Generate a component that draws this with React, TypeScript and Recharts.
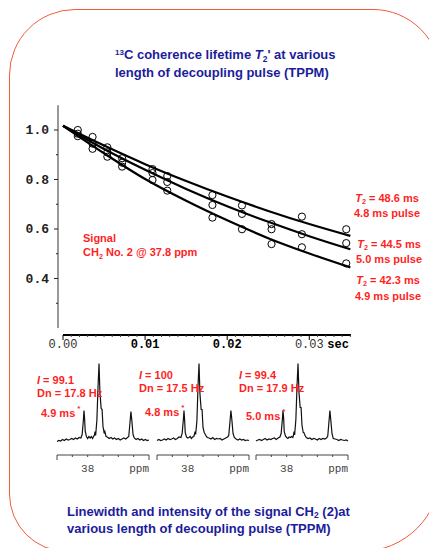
import React from 'react';
import { ComposedChart, LineChart, Line, Scatter, XAxis, YAxis, ReferenceLine } from 'recharts';

// T2' decay: delay times (s) and normalised amplitudes per decoupling pulse
const sampleTimes = [0.0018, 0.0036, 0.0054, 0.0072, 0.0109, 0.0127, 0.0182, 0.0218, 0.0254, 0.0291, 0.0345];
const amp48 = [1.0, 0.972, 0.93, 0.886, 0.842, 0.814, 0.737, 0.695, 0.62, 0.65, 0.599];
const amp50 = [0.985, 0.945, 0.91, 0.868, 0.826, 0.79, 0.697, 0.661, 0.599, 0.579, 0.543];
const amp49 = [0.975, 0.924, 0.892, 0.852, 0.798, 0.755, 0.646, 0.599, 0.539, 0.526, 0.461];

// fitted curves
const fitTimes = [0, 0.005, 0.01, 0.015, 0.02, 0.025, 0.03, 0.035];
const fit48 = [1.017, 0.937, 0.862, 0.794, 0.731, 0.673, 0.62, 0.572];
const fit50 = [1.017, 0.923, 0.839, 0.762, 0.692, 0.629, 0.571, 0.518];
const fit49 = [1.017, 0.906, 0.802, 0.714, 0.635, 0.563, 0.501, 0.445];

const yTicks = [0.3, 0.4, 0.5, 0.6, 0.7, 0.8, 0.9, 1.0];
const xTicks = Array.from({ length: 36 }, (_, i) => i / 1000);
const xLabels: Record<number, string> = { 0: '0.00', 10: '0.01', 20: '0.02', 30: '0.03' };

// spectra: chemical shift grid (ppm) and intensities
const ppm = [
  38.5, 38.47, 38.44, 38.41, 38.38, 38.35, 38.32, 38.29, 38.26, 38.23, 38.2, 38.17, 38.14, 38.11, 38.09,
  38.07, 38.06, 38.05, 38.04, 38.02, 38.0, 37.98, 37.96, 37.94, 37.92, 37.9, 37.89, 37.88, 37.87, 37.85,
  37.83, 37.815, 37.8, 37.78, 37.765, 37.75, 37.73, 37.72, 37.7, 37.68, 37.65, 37.62, 37.59, 37.56, 37.53,
  37.5, 37.47, 37.44, 37.41, 37.38, 37.35, 37.33, 37.31, 37.295, 37.28, 37.26, 37.24, 37.21, 37.18, 37.15,
  37.12, 37.09, 37.06, 37.03, 37.0,
];
const spec49 = [
  -1, 0, -0.5, 1, 0, 1.5, 0.5, 1, 2, 1, 2.5, 1.5, 3, 2.5, 6,
  20, 30, 22, 9, 4, 2, 4, 2.5, 4, 2, 4.5, 5, 9, 5, 20,
  55, 77, 48, 32, 31, 14, 7, 9, 4, 3.5, 2, 3, 1.5, 2.5, 1,
  2, 0.5, 1.5, 2.5, 1.5, 3, 4, 18, 29, 20, 6, 2.5, 1, 2, 0.5,
  1.5, 0, 1, 0, 0.5,
];
const spec48 = [
  0, 1, 0, 0.5, 1.5, 0.5, 2, 1, 1.5, 2.5, 1, 2, 3.5, 3, 7,
  21, 30, 21, 8, 3.5, 2.5, 3, 4, 2, 3.5, 4, 6, 9, 6, 19,
  56, 77, 47, 31, 31, 13, 8, 7, 4.5, 3, 2.5, 1.5, 3, 1, 2,
  1.5, 2, 0.5, 1.5, 2.5, 3.5, 5, 19, 30, 21, 7, 3, 1.5, 0.5, 1.5,
  0.5, 1, 0, 0.5, 0,
];
const spec50 = [
  -0.5, 0.5, 1, 0, 1, 2, 0.5, 1.5, 1, 2, 2.5, 1, 2.5, 3.5, 7,
  21, 30, 23, 9, 4.5, 3, 2, 3.5, 3, 4, 3, 5, 9, 5.5, 21,
  56, 77, 49, 33, 33, 15, 8, 8, 5, 3, 2, 2.5, 1, 2, 1.5,
  0.5, 2, 1, 2, 1.5, 2.5, 4.5, 19, 30, 20, 6.5, 2, 1.5, 1, 0,
  1, 0.5, 0, 0.5, -0.5,
];
const specTicks = [37.0, 37.25, 37.5, 37.75, 38.0, 38.25, 38.5];

const series = (xs: number[], ys: number[]) => xs.map((t, i) => ({ t, v: ys[i] }));
const spectrum = (ys: number[]) => ppm.map((p, i) => ({ ppm: p, i: ys[i] }));

const SANS = '"Liberation Sans", Arial, sans-serif';
const MONO = '"Liberation Mono", "Courier New", monospace';
const RED = '#ff1f1f';
const BLUE = '#1c1c9c';

const Sup = ({ children }: { children: React.ReactNode }) => (
  <span style={{ fontSize: '0.62em', position: 'relative', top: '-0.55em' }}>{children}</span>
);
const Sub = ({ children }: { children: React.ReactNode }) => (
  <span style={{ fontSize: '0.65em', position: 'relative', top: '0.35em' }}>{children}</span>
);

const XTick = (props: any) => {
  const { x, y, payload } = props;
  const i = Math.round(payload.value * 1000);
  const major = i % 10 === 0;
  const bold = i === 10 || i === 20;
  return (
    <g>
      <line x1={x} x2={x} y1={y} y2={y + (major ? 5 : 2)} stroke={major ? '#000' : '#444'} strokeWidth={1} />
      {major && (
        <text x={x} y={y + 13} textAnchor="middle" fontFamily={MONO} fontSize={12}
          fontWeight={bold ? 'bold' : 'normal'} fill={bold ? '#000' : '#333'}>
          {xLabels[i]}
        </text>
      )}
      {i === 30 && (
        <text x={x + 18} y={y + 13} fontFamily={MONO} fontSize={12} fontWeight="bold" fill="#000">sec</text>
      )}
    </g>
  );
};

const YTick = (props: any) => {
  const { x, y, payload } = props;
  const k = Math.round(payload.value * 10);
  const major = k % 2 === 0;
  return (
    <g>
      <line x1={x - (major ? 4 : 2)} x2={x} y1={y} y2={y} stroke="#222" strokeWidth={1} />
      {major && (
        <text x={x - 9} y={y + 4.5} textAnchor="end" fontFamily={MONO} fontSize={13} fontWeight="bold" fill="#222">
          {payload.value.toFixed(1)}
        </text>
      )}
    </g>
  );
};

const SpecTick = (props: any) => {
  const { x, y, payload } = props;
  const v = payload.value;
  const end = v === 37.0 || v === 38.5;
  return (
    <g>
      <line x1={x} x2={x} y1={y} y2={y + (end ? 5 : 2)} stroke="#444" strokeWidth={1} />
      {v === 38.0 && (
        <text x={x} y={y + 16.5} textAnchor="middle" fontFamily={MONO} fontSize={11} fill="#444">38</text>
      )}
      {v === 37.0 && (
        <text x={x} y={y + 16.5} textAnchor="end" fontFamily={MONO} fontSize={11} fill="#444">ppm</text>
      )}
    </g>
  );
};

const OpenCircle = (props: any) => (
  <circle cx={props.cx} cy={props.cy} r={3.6} fill="none" stroke="#000" strokeWidth={1} />
);

const X_MIN = -0.00061;
const X_MAX = 0.03508;
const Y_MIN = 0.1717;
const Y_MAX = 1.101;

const Spectrum = ({ data, left }: { data: { ppm: number; i: number }[]; left: number }) => (
  <div style={{ position: 'absolute', left, top: 357 }}>
    <LineChart width={100} height={118} data={data} margin={{ top: 5, right: 4, bottom: 0, left: 4 }}>
      <XAxis dataKey="ppm" type="number" domain={[37.0, 38.5]} reversed ticks={specTicks} interval={0}
        height={20} tickSize={0} tickMargin={0} tick={<SpecTick />} axisLine={{ stroke: '#444', strokeWidth: 1 }} />
      <YAxis hide type="number" domain={[-14.5, 78.5]} />
      <Line type="linear" dataKey="i" stroke="#111" strokeWidth={1.2} dot={false} isAnimationActive={false} />
    </LineChart>
  </div>
);

const redText: React.CSSProperties = {
  position: 'absolute',
  color: RED,
  fontFamily: SANS,
  fontWeight: 'bold',
  fontSize: 11,
  lineHeight: '13px',
  whiteSpace: 'nowrap',
};

const SpecLabel = ({ left, top, I, dn, ms, msTop, msLeft }: any) => (
  <>
    <div style={{ ...redText, left, top }}>
      <i>I</i> = {I}
      <br />
      Dn = {dn} Hz
    </div>
    <div style={{ ...redText, left: msLeft, top: msTop }}>
      {ms} ms<span style={{ fontSize: 8, position: 'relative', top: -6, marginLeft: 2 }}>*</span>
    </div>
  </>
);

export default function App() {
  return (
    <div style={{ position: 'fixed', left: 0, top: 0, width: 429, height: 548, overflow: 'hidden', background: '#fff' }}>
      <div style={{
        position: 'absolute', left: 9, top: 9, width: 432, height: 543,
        border: '1.5px solid #f25a3c', borderRadius: '66px 68px 80px 58px', boxSizing: 'border-box',
      }} />

      <div style={{
        position: 'absolute', left: 115, top: 47, fontFamily: SANS, fontWeight: 'bold', fontSize: 13,
        lineHeight: '16px', color: BLUE, whiteSpace: 'nowrap',
      }}>
        <Sup>13</Sup>C coherence lifetime <i>T</i><Sub>2</Sub>' at various
        <br />
        length of decoupling pulse (TPPM)
      </div>

      <div style={{ position: 'absolute', left: 0, top: 0 }}>
        <ComposedChart width={429} height={360} margin={{ top: 105, right: 78, bottom: 0, left: 0 }}>
          <XAxis dataKey="t" type="number" domain={[X_MIN, X_MAX]} ticks={xTicks} interval={0} height={25}
            tickSize={0} tickMargin={0} tick={<XTick />} axisLine={false} allowDataOverflow />
          <YAxis type="number" domain={[Y_MIN, Y_MAX]} ticks={yTicks} interval={0} width={58}
            tickSize={0} tickMargin={0} tick={<YTick />} axisLine={false} allowDataOverflow />
          <ReferenceLine segment={[{ x: X_MIN, y: 0.2 }, { x: X_MIN, y: 1.1 }]} stroke="#333" strokeWidth={1} ifOverflow="visible" />
          <ReferenceLine segment={[{ x: 0, y: Y_MIN }, { x: X_MAX, y: Y_MIN }]} stroke="#000" strokeWidth={2} ifOverflow="visible" />
          <Line data={series(fitTimes, fit48)} dataKey="v" type="monotone" stroke="#000" strokeWidth={2.2} dot={false} isAnimationActive={false} />
          <Line data={series(fitTimes, fit50)} dataKey="v" type="monotone" stroke="#000" strokeWidth={2.2} dot={false} isAnimationActive={false} />
          <Line data={series(fitTimes, fit49)} dataKey="v" type="monotone" stroke="#000" strokeWidth={2.2} dot={false} isAnimationActive={false} />
          <Scatter data={series(sampleTimes, amp48)} dataKey="v" shape={<OpenCircle />} isAnimationActive={false} />
          <Scatter data={series(sampleTimes, amp50)} dataKey="v" shape={<OpenCircle />} isAnimationActive={false} />
          <Scatter data={series(sampleTimes, amp49)} dataKey="v" shape={<OpenCircle />} isAnimationActive={false} />
        </ComposedChart>
      </div>

      <div style={{ ...redText, left: 83, top: 231, lineHeight: '14px' }}>
        Signal
        <br />
        CH<Sub>2</Sub> No. 2 @ 37.8 ppm
      </div>

      <div style={{ ...redText, left: 354, top: 191.5, textAlign: 'center' }}>
        <i>T</i><Sub>2</Sub> = 48.6 ms
        <br />
        4.8 ms pulse
      </div>
      <div style={{ ...redText, left: 356, top: 237.5, textAlign: 'center' }}>
        <i>T</i><Sub>2</Sub> = 44.5 ms
        <br />
        5.0 ms pulse
      </div>
      <div style={{ ...redText, left: 355, top: 272.5, textAlign: 'center', lineHeight: '14px' }}>
        <i>T</i><Sub>2</Sub> = 42.3 ms
        <br />
        4.9 ms pulse
      </div>

      <Spectrum data={spectrum(spec49)} left={53.3} />
      <Spectrum data={spectrum(spec48)} left={152.7} />
      <Spectrum data={spectrum(spec50)} left={252} />

      <SpecLabel left={37} top={373.5} I="99.1" dn="17.8" ms="4.9" msLeft={41} msTop={406.5} />
      <SpecLabel left={139} top={368.5} I="100" dn="17.5" ms="4.8" msLeft={145} msTop={405.5} />
      <SpecLabel left={239} top={368.5} I="99.4" dn="17.9" ms="5.0" msLeft={246} msTop={409.5} />

      <div style={{
        position: 'absolute', left: 67, top: 503.5, fontFamily: SANS, fontWeight: 'bold', fontSize: 13,
        lineHeight: '15px', color: BLUE, whiteSpace: 'nowrap',
      }}>
        Linewidth and intensity of the signal CH<Sub>2</Sub> (2)at
        <br />
        various length of decoupling pulse (TPPM)
      </div>
    </div>
  );
}
